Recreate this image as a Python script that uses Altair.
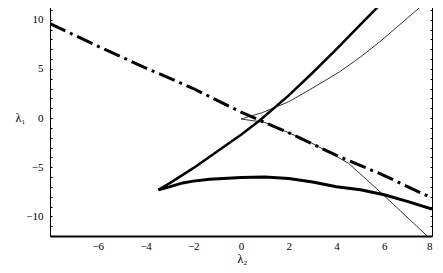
import altair as alt
import pandas as pd

# --- data ---
dash_x = [-8, -6, -4, -2, 0, 2, 4, 6, 8]
dash_y = [9.6, 7.3, 5.1, 3.0, 0.6, -1.5, -3.8, -5.85, -8.15]

upper_thick_x = [-3.46, -3, -2, -1, 0, 0.78, 2, 3, 4, 5, 6.1]
upper_thick_y = [-7.3, -6.65, -5.1, -3.4, -1.7, -0.25, 2.3, 4.6, 7.0, 9.5, 12.2]

lower_thick_x = [-3.46, -3, -2.44, -2, -1.32, 0, 1, 2, 3, 4, 5, 6, 7, 8]
lower_thick_y = [-7.3, -7.0, -6.6, -6.42, -6.24, -6.05, -6.0, -6.15, -6.5, -7.0, -7.3, -7.8, -8.5, -9.25]

thin_upper_x = [0, 0.9, 2.0, 3.0, 4.14, 5.0, 5.82, 7.85]
thin_upper_y = [-0.1, 0.55, 1.65, 3.05, 4.71, 6.2, 7.76, 12.0]
thin_lower_x = [0, 1, 2, 2.88, 3.7, 4.5, 5.82, 7.8]
thin_lower_y = [-0.1, -0.45, -1.5, -2.45, -3.5, -4.6, -7.5, -12.0]

x_tick_labels = [-6, -4, -2, 0, 2, 4, 6, 8]
y_ticks = list(range(-11, 12))

def frame(xs, ys):
    return pd.DataFrame({"x": xs, "y": ys, "i": list(range(len(xs)))})

df_dash = frame(dash_x, dash_y)
df_up = frame(upper_thick_x, upper_thick_y)
df_low = frame(lower_thick_x, lower_thick_y)
thin_x = list(reversed(thin_upper_x)) + thin_lower_x[1:]
thin_y = list(reversed(thin_upper_y)) + thin_lower_y[1:]
df_thin = frame(thin_x, thin_y)

FONT = "Liberation Serif"
xs = alt.Scale(domain=[-8, 8], nice=False, zero=False)
ys = alt.Scale(domain=[-12, 12], nice=False, zero=False)

x_axis = alt.Axis(orient="bottom", values=x_tick_labels, domain=True, domainColor="black",
                  domainWidth=2, ticks=False, labelPadding=4, labelFont=FONT, labelFontSize=11,
                  labelColor="black", grid=False, title="λ₂", titleFont=FONT, titleFontSize=12,
                  titleFontWeight="normal", titleColor="black", titleX=192, titleY=26,
                  titleAlign="center", titleBaseline="alphabetic")
y_axis = alt.Axis(orient="left", values=y_ticks, offset=-2, domain=False, ticks=True, tickSize=2,
                  tickColor="black", labelPadding=7, labelFont=FONT, labelFontSize=11,
                  labelColor="black", grid=False,
                  labelExpr="datum.value % 5 == 0 ? datum.label : ''",
                  title="λ₁", titleFont=FONT, titleFontSize=12, titleFontWeight="normal",
                  titleColor="black", titleAngle=0, titleX=-32, titleY=117,
                  titleAlign="center", titleBaseline="middle")

def line(df, width, dash=None):
    kw = dict(color="black", strokeWidth=width, clip=True, strokeCap="butt")
    if dash:
        kw["strokeDash"] = dash
    return alt.Chart(df).mark_line(**kw).encode(
        x=alt.X("x:Q", scale=xs, axis=x_axis),
        y=alt.Y("y:Q", scale=ys, axis=y_axis),
        order="i:Q",
    )

data_layer = alt.layer(
    line(df_thin, 0.8),
    line(df_low, 3),
    line(df_up, 2.5),
    line(df_dash, 3, [17, 5, 3, 5]),
)

top_axis = alt.Axis(orient="top", values=[-6, -4, -2, 0, 2, 4, 6], offset=-2, domain=False,
                    ticks=True, tickSize=2, tickColor="black", labels=False, grid=False, title=None)
right_axis = alt.Axis(orient="right", values=y_ticks, offset=-2, domain=False, ticks=True,
                      tickSize=2, tickColor="black", labels=False, grid=False, title=None)

axis_layer = alt.Chart(df_dash).mark_point(opacity=0).encode(
    x=alt.X("x:Q", scale=xs, axis=top_axis),
    y=alt.Y("y:Q", scale=ys, axis=right_axis),
)

chart = alt.layer(data_layer, axis_layer).resolve_axis(
    x="independent", y="independent"
).properties(
    width=382, height=236,
    autosize=alt.AutoSizeParams(type="none"),
    padding={"left": 42, "top": -8, "right": 3, "bottom": 29},
).configure_view(
    stroke="black", strokeWidth=1
)

chart.save("out.html", embed_options={"renderer": "svg", "actions": False})
